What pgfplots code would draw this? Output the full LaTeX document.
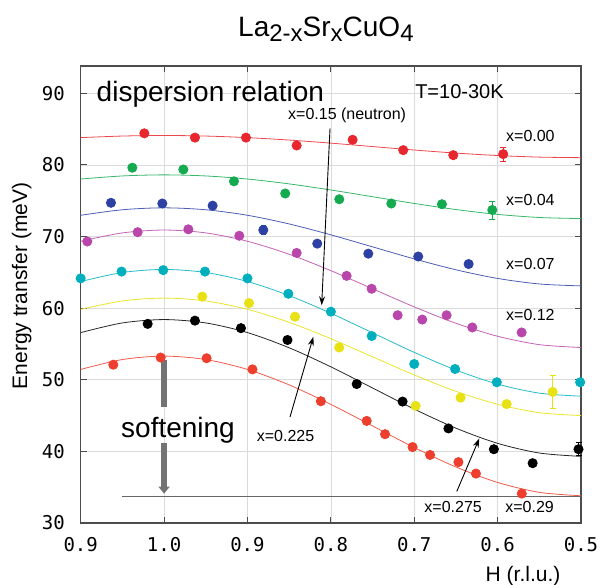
\documentclass[border=0pt]{standalone}
\usepackage{fontspec}
\setmainfont{Liberation Sans}
\newfontfamily\monofont{DejaVu Sans Mono}
\usepackage{graphicx}
\usepackage{pgfplots}
\pgfplotsset{compat=1.18}
\usetikzlibrary{arrows.meta}
\definecolor{cR}{RGB}{232,38,45}
\definecolor{cG}{RGB}{20,170,80}
\definecolor{cB}{RGB}{45,65,165}
\definecolor{cM}{RGB}{185,70,170}
\definecolor{cC}{RGB}{0,175,190}
\definecolor{cY}{RGB}{232,226,20}
\definecolor{cK}{RGB}{0,0,0}
\definecolor{cO}{RGB}{238,62,45}
\newcommand{\fs}[1]{\fontsize{#1}{#1}\selectfont}
\newcommand{\sub}[1]{\raisebox{-5bp}{\fs{24bp}#1}}
\begin{document}
\begin{tikzpicture}
\useasboundingbox (0,0) rectangle (600bp,585bp);
\begin{axis}[
  at={(80.7bp,62bp)}, anchor=south west,
  scale only axis, width=500.3bp, height=457bp,
  xmin=0, xmax=6, ymin=30, ymax=93.8,
  clip=false,
  xtick={0,1,2,3,4,5,6}, xticklabels={0.9,1.0,0.9,0.8,0.7,0.6,0.5},
  ytick={30,40,50,60,70,80,90}, yticklabels={30,40,50,60,70,80,90},
  tick align=inside, major tick length=6bp,
  xtick pos=both, ytick pos=both,
  grid=major, major grid style={black!14, line width=0.5bp},
  axis line style={black!70, line width=1.1bp},
  tick style={black!70, line width=1bp},
  xticklabel style={font=\monofont\fs{19bp}, anchor=base, inner sep=0pt, yshift=-28.7bp},
  yticklabel style={font=\monofont\fs{19bp}, anchor=east, inner sep=0pt, xshift=-15.7bp},
  every axis plot/.append style={line width=0.8bp},
  mark size=4.6bp,
]
% fitted dispersion curves
\addplot[cR!85, smooth, mark=none] coordinates {(0,83.80) (0.5,84.02) (1,84.10) (1.5,84.02) (2,83.80) (2.5,83.46) (3,83.03) (3.5,82.55) (4,82.07) (4.5,81.64) (5,81.30) (5.5,81.08) (6,81.00)};
\addplot[cG!85, smooth, mark=none] coordinates {(0,78.02) (0.5,78.45) (1,78.6) (1.5,78.45) (2,78.02) (2.5,77.34) (3,76.49) (3.5,75.55) (4,74.61) (4.5,73.76) (5,73.08) (5.5,72.65) (6,72.5)};
\addplot[cB!85, smooth, mark=none] coordinates {(0,72.96) (0.5,73.73) (1,74.0) (1.5,73.73) (2,72.96) (2.5,71.75) (3,70.23) (3.5,68.55) (4,66.87) (4.5,65.35) (5,64.14) (5.5,63.37) (6,63.1)};
\addplot[cM!85, smooth, mark=none] coordinates {(0,69.33) (0.5,70.5) (1,70.9) (1.5,70.5) (2,69.33) (2.5,67.52) (3,65.23) (3.5,62.7) (4,60.17) (4.5,57.88) (5,56.07) (5.5,54.9) (6,54.5)};
\addplot[cC!85, smooth, mark=none] coordinates {(0,63.71) (0.5,64.97) (1,65.4) (1.5,64.97) (2,63.71) (2.5,61.75) (3,59.28) (3.5,56.55) (4,53.82) (4.5,51.35) (5,49.39) (5.5,48.13) (6,47.7)};
\addplot[cY!90, smooth, mark=none] coordinates {(0,59.83) (0.5,61.0) (1,61.4) (1.5,61.0) (2,59.83) (2.5,58.02) (3,55.73) (3.5,53.2) (4,50.67) (4.5,48.38) (5,46.57) (5.5,45.4) (6,45.0)};
\addplot[cK!85, smooth, mark=none] coordinates {(0,56.58) (0.5,57.93) (1,58.4) (1.5,57.93) (2,56.58) (2.5,54.46) (3,51.8) (3.5,48.85) (4,45.9) (4.5,43.24) (5,41.12) (5.5,39.77) (6,39.3)};
\addplot[cO!85, smooth, mark=none] coordinates {(0,51.44) (0.5,52.82) (1,53.3) (1.5,52.82) (2,51.44) (2.5,49.28) (3,46.56) (3.5,43.55) (4,40.54) (4.5,37.82) (5,35.66) (5.5,34.28) (6,33.8)};
% reference line
\addplot[black!60, line width=1bp, mark=none] coordinates {(0.49,33.75) (6,33.75)};
% data points
\addplot[cR, only marks, mark=*] coordinates {(0.763,84.4) (1.370,83.8) (1.982,83.8) (2.590,82.7) (3.261,83.5) (3.868,82.05) (4.468,81.35)};
\addplot[cR, only marks, mark=*, error bars/.cd, y dir=both, y explicit, error mark options={rotate=90, mark size=3bp, line width=0.6bp}, error bar style={line width=0.6bp}] coordinates {(5.067,81.5) +- (0,1.0)};
\addplot[cG, only marks, mark=*] coordinates {(0.619,79.6) (1.231,79.35) (1.838,77.7) (2.453,76.0) (3.101,75.2) (3.725,74.6) (4.332,74.5)};
\addplot[cG, only marks, mark=*, error bars/.cd, y dir=both, y explicit, error mark options={rotate=90, mark size=3bp, line width=0.6bp}, error bar style={line width=0.6bp}] coordinates {(4.936,73.7) +- (0,1.25)};
\addplot[cB, only marks, mark=*] coordinates {(0.363,74.7) (0.979,74.6) (1.582,74.3) (2.837,69.0) (3.449,67.6) (4.048,67.2) (4.652,66.15)};
\addplot[cB, only marks, mark=*, error bars/.cd, y dir=both, y explicit, error mark options={rotate=90, mark size=2.5bp, line width=0.6bp}, error bar style={line width=0.6bp}] coordinates {(2.190,70.9) +- (0,0.6)};
\addplot[cM, only marks, mark=*] coordinates {(0.079,69.3) (0.683,70.6) (1.291,71.0) (1.902,70.1) (2.590,67.7) (3.189,64.5) (3.489,62.7) (3.801,59.0) (4.096,58.4) (4.388,59.0) (4.696,57.3) (5.288,56.6)};
\addplot[cC, only marks, mark=*] coordinates {(0.0,64.15) (0.49,65.1) (0.99,65.3) (1.49,65.1) (2.0,64.15) (2.49,62.0) (3.0,59.5) (3.49,56.1) (4.0,52.2) (4.49,51.5) (4.99,49.65) (5.99,49.65)};
\addplot[cY, only marks, mark=*] coordinates {(1.458,61.6) (2.018,60.7) (2.57,58.8) (3.10,54.5) (4.017,46.35) (4.556,47.5) (5.108,46.6)};
\addplot[cY, only marks, mark=*, error bars/.cd, y dir=both, y explicit, error mark options={rotate=90, mark size=3bp, line width=0.6bp}, error bar style={line width=0.6bp}] coordinates {(5.66,48.3) +- (0,2.3)};
\addplot[cK, only marks, mark=*] coordinates {(0.803,57.8) (1.37,58.25) (1.922,57.2) (2.48,55.55) (3.31,49.4) (3.86,46.95) (4.41,43.2) (4.955,40.3) (5.42,38.35)};
\addplot[cK, only marks, mark=*, error bars/.cd, y dir=both, y explicit, error mark options={rotate=90, mark size=3bp, line width=0.6bp}, error bar style={line width=0.6bp}] coordinates {(5.97,40.3) +- (0,0.9)};
\addplot[cO, only marks, mark=*] coordinates {(0.391,52.1) (0.959,53.1) (1.51,53.0) (2.06,51.45) (2.88,47.0) (3.43,44.25) (3.65,42.4) (3.98,40.6) (4.19,39.5) (4.53,38.5) (4.74,36.9) (5.29,34.1)};
% softening arrow
\draw[black!55, line width=6bp] (axis cs:1,52.75) -- (axis cs:1,46.25);
\draw[black!55, line width=6bp, -{Triangle[length=7bp,width=11bp]}] (axis cs:1,41.1) -- (axis cs:1,34.1);
% annotation arrows
\draw[black, line width=0.9bp, -{Stealth[length=9bp,width=6bp]}] (axis cs:2.99,85.1) -- (axis cs:2.89,60.4);
\draw[black, line width=0.9bp, -{Stealth[length=9bp,width=6bp]}] (axis cs:2.51,44.8) -- (axis cs:2.79,56.0);
\draw[black, line width=0.9bp, -{Stealth[length=9bp,width=6bp]}] (axis cs:4.51,34.4) -- (axis cs:4.78,41.8);
% texts
\node[anchor=base west, inner sep=0pt, font=\fs{28bp}] at (axis cs:0.19,88.8) {dispersion relation};
\node[anchor=base west, inner sep=0pt, font=\fs{20bp}] at (axis cs:4.01,89.26) {T=10-30K};
\node[anchor=base west, inner sep=0pt, font=\fs{16bp}] at (axis cs:2.486,86.3) {x=0.15 (neutron)};
\node[anchor=base west, inner sep=0pt, font=\fs{16bp}] at (axis cs:5.10,83.2) {x=0.00};
\node[anchor=base west, inner sep=0pt, font=\fs{16bp}] at (axis cs:5.10,74.3) {x=0.04};
\node[anchor=base west, inner sep=0pt, font=\fs{16bp}] at (axis cs:5.10,65.4) {x=0.07};
\node[anchor=base west, inner sep=0pt, font=\fs{16bp}] at (axis cs:5.10,58.3) {x=0.12};
\node[anchor=base west, inner sep=0pt, font=\fs{16bp}] at (axis cs:2.11,41.4) {x=0.225};
\node[anchor=base west, inner sep=0pt, font=\fs{16bp}] at (axis cs:4.12,31.4) {x=0.275};
\node[anchor=base west, inner sep=0pt, font=\fs{16bp}] at (axis cs:5.09,31.4) {x=0.29};
\node[anchor=center, inner sep=0pt, font=\fs{28bp}] at (axis cs:1.167,43.0) {softening};
\end{axis}
\node[anchor=base, inner sep=0pt, rotate=90, font=\fs{21bp}] at (27bp,299bp) {Energy transfer (meV)};
\node[anchor=base, inner sep=0pt, font=\fs{21bp}] at (523bp,3.3bp) {H (r.l.u.)};
\node[anchor=base west, inner sep=0pt, font=\fs{28bp}] at (238bp,548bp) {La\sub{2-x}Sr\sub{x}CuO\sub{4}};
\end{tikzpicture}
\end{document}
